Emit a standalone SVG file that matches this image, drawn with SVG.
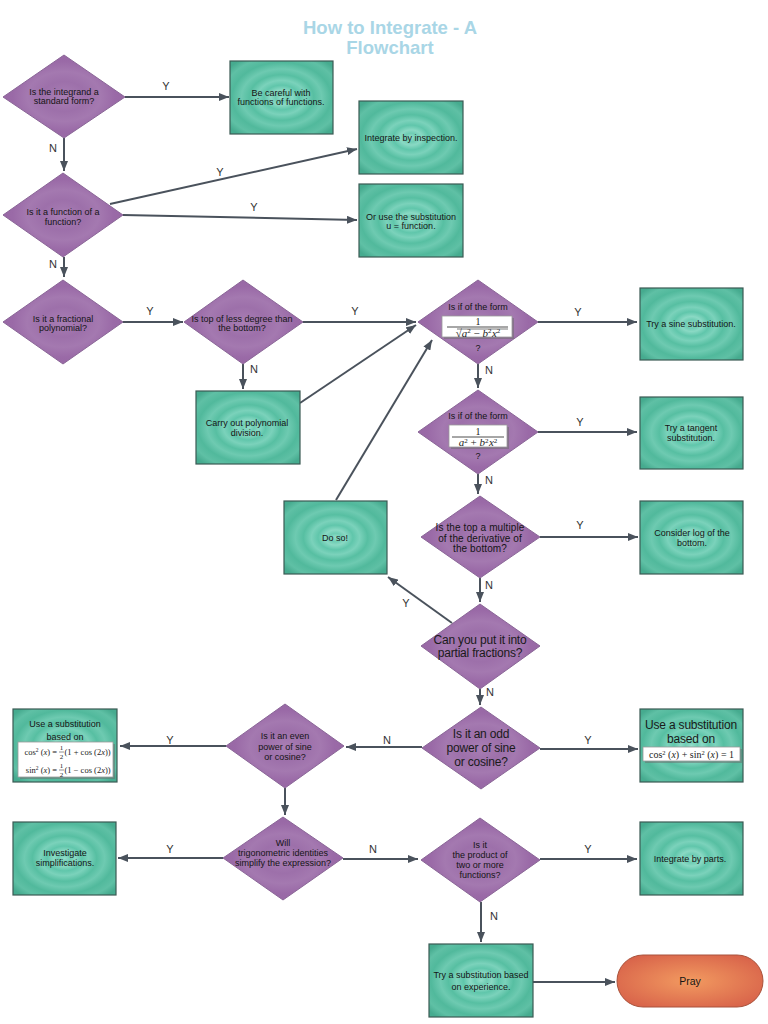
<svg xmlns="http://www.w3.org/2000/svg" width="768" height="1024" viewBox="0 0 768 1024">
<defs>
<radialGradient id="gTeal" cx="0.5" cy="0.5" r="0.65">
<stop offset="0" stop-color="#93ddc9"/>
<stop offset="0.09" stop-color="#6fcdb4"/>
<stop offset="0.16" stop-color="#8ad9c4"/>
<stop offset="0.26" stop-color="#60c6ab"/>
<stop offset="0.36" stop-color="#7bd2bb"/>
<stop offset="0.48" stop-color="#57bfa2"/>
<stop offset="0.60" stop-color="#6ecab1"/>
<stop offset="0.74" stop-color="#51b99c"/>
<stop offset="0.88" stop-color="#5fc0a5"/>
<stop offset="1" stop-color="#46ab8f"/>
</radialGradient>
<radialGradient id="gPurple" cx="0.5" cy="0.5" r="0.6">
<stop offset="0" stop-color="#a87eb4"/>
<stop offset="0.3" stop-color="#9d70aa"/>
<stop offset="0.5" stop-color="#a479b0"/>
<stop offset="0.7" stop-color="#9a6aa7"/>
<stop offset="1" stop-color="#9565a2"/>
</radialGradient>
<radialGradient id="gOrange" cx="0.5" cy="0.5" r="0.6">
<stop offset="0" stop-color="#f29a60"/>
<stop offset="1" stop-color="#d8634a"/>
</radialGradient>
<marker id="arr" viewBox="0 0 10 8" refX="10" refY="4" markerWidth="5" markerHeight="4" orient="auto" markerUnits="strokeWidth">
<path d="M0,0 L10,4 L0,8 z" fill="#4a525c"/>
</marker>
<style>
.dia{fill:url(#gPurple);stroke:#8a6697;stroke-width:1}
.box{fill:url(#gTeal);stroke:#3b5a54;stroke-width:1.2}
.t{font-family:"Liberation Sans",Arial,sans-serif;font-size:9px;fill:#151515;text-anchor:middle;letter-spacing:0}
.tm{font-size:10px;letter-spacing:0.1px}
.tb{font-family:"Liberation Sans",Arial,sans-serif;font-size:12px;fill:#1a1a1a;text-anchor:middle;letter-spacing:-0.2px}
.lbl{font-family:"Liberation Sans",Arial,sans-serif;font-size:11px;fill:#333;text-anchor:middle}
.c{stroke:#4a525c;stroke-width:2;fill:none;marker-end:url(#arr)}
.mb{fill:#fff;stroke:#9a9a9a;stroke-width:0.8}
.ms{fill:#6a6a6a;opacity:0.5}
.m{font-family:"Liberation Serif","Times New Roman",serif;font-size:11px;fill:#222}
.mi{font-style:italic}
.title{font-family:"Liberation Sans",Arial,sans-serif;font-size:18.5px;font-weight:bold;fill:#a9d6e6;text-anchor:middle}
</style>
</defs>
<rect width="768" height="1024" fill="#fff"/>
<g id="title">
<text class="title" x="390" y="34">How to Integrate - A</text>
<text class="title" x="390" y="54">Flowchart</text>
</g>
<g id="connectors">
<path class="c" d="M125,97 H229"/>
<path class="c" d="M64,138 V171"/>
<path class="c" d="M110,204 L357,149"/>
<path class="c" d="M123,215 L357,220"/>
<path class="c" d="M64,257 V277"/>
<path class="c" d="M123,322 H183"/>
<path class="c" d="M303,322 H416"/>
<path class="c" d="M243,364 V389"/>
<path class="c" d="M300,403 L416,325"/>
<path class="c" d="M336,500 L432,340"/>
<path class="c" d="M538,322 H637"/>
<path class="c" d="M478,364 V388"/>
<path class="c" d="M538,432 H637"/>
<path class="c" d="M478,474 V494"/>
<path class="c" d="M540,537 H638"/>
<path class="c" d="M480,578 V602"/>
<path class="c" d="M452,623 L388,577"/>
<path class="c" d="M480,689 V705"/>
<path class="c" d="M540,749 H638"/>
<path class="c" d="M422,747 H346"/>
<path class="c" d="M226,746 H120"/>
<path class="c" d="M285,788 V815"/>
<path class="c" d="M223,858 H118"/>
<path class="c" d="M343,859 H418"/>
<path class="c" d="M540,859 H637"/>
<path class="c" d="M481,902 V942"/>
<path class="c" d="M533,982 H615"/>
<text class="lbl" x="166" y="90">Y</text>
<text class="lbl" x="53" y="152">N</text>
<text class="lbl" x="220" y="176">Y</text>
<text class="lbl" x="254" y="211">Y</text>
<text class="lbl" x="53" y="268">N</text>
<text class="lbl" x="150" y="315">Y</text>
<text class="lbl" x="355" y="315">Y</text>
<text class="lbl" x="254" y="373">N</text>
<text class="lbl" x="578" y="316">Y</text>
<text class="lbl" x="489" y="374">N</text>
<text class="lbl" x="580" y="426">Y</text>
<text class="lbl" x="489" y="484">N</text>
<text class="lbl" x="580" y="529">Y</text>
<text class="lbl" x="489" y="589">N</text>
<text class="lbl" x="406" y="607">Y</text>
<text class="lbl" x="490" y="696">N</text>
<text class="lbl" x="588" y="744">Y</text>
<text class="lbl" x="387" y="744">N</text>
<text class="lbl" x="170" y="744">Y</text>
<text class="lbl" x="170" y="853">Y</text>
<text class="lbl" x="373" y="853">N</text>
<text class="lbl" x="588" y="853">Y</text>
<text class="lbl" x="494" y="920">N</text>
</g>
<g id="d1">
<polygon class="dia" points="64,55 125,97 64,138 3,97"/>
<text class="t" x="64" y="94.5">Is the integrand a</text>
<text class="t" x="64" y="104">standard form?</text>
</g>
<g id="b1">
<rect class="box" x="230" y="61" width="103" height="73"/>
<text class="t" x="281" y="95.5">Be careful with</text>
<text class="t" x="281" y="105">functions of functions.</text>
</g>
<g id="b2">
<rect class="box" x="359" y="101" width="104" height="73"/>
<text class="t" x="411" y="140.5">Integrate by inspection.</text>
</g>
<g id="d2">
<polygon class="dia" points="63,173 123,215 63,257 3,215"/>
<text class="t" x="63" y="214.5">Is it a function of a</text>
<text class="t" x="63" y="224.5">function?</text>
</g>
<g id="b3">
<rect class="box" x="359" y="184" width="104" height="73"/>
<text class="t" x="411" y="219.5">Or use the substitution</text>
<text class="t" x="411" y="229">u = function.</text>
</g>
<g id="d3">
<polygon class="dia" points="63,280 123,322 63,364 3,322"/>
<text class="t" x="63" y="321.5">Is it a fractional</text>
<text class="t" x="63" y="331">polynomial?</text>
</g>
<g id="d4">
<polygon class="dia" points="243,280 303,322 243,364 184,322"/>
<text class="t" x="242" y="321.5">Is top of less degree than</text>
<text class="t" x="242" y="331">the bottom?</text>
</g>
<g id="b4">
<rect class="box" x="196" y="391" width="104" height="73"/>
<text class="t" x="247" y="425.5">Carry out polynomial</text>
<text class="t" x="247" y="435.5">division.</text>
</g>
<g id="d5">
<polygon class="dia" points="478,280 538,322 478,364 418,322"/>
<text class="t" x="478" y="310">Is if of the form</text>
<rect class="ms" x="444" y="318" width="70" height="21"/>
<rect class="mb" x="442" y="316" width="70" height="21"/>
<text class="m" x="478" y="325" text-anchor="middle" style="font-size:10px">1</text>
<line x1="447" y1="327" x2="508" y2="327" stroke="#222" stroke-width="0.8"/>
<line x1="457" y1="329" x2="508" y2="329" stroke="#222" stroke-width="0.6"/>
<text class="m" x="478" y="336.5" text-anchor="middle">√<tspan class="mi">a</tspan><tspan dy="-3.5" font-size="7">2</tspan><tspan dy="3.5"> − </tspan><tspan class="mi">b</tspan><tspan dy="-3.5" font-size="7">2</tspan><tspan dy="3.5" class="mi" dx="0.5">x</tspan><tspan dy="-3.5" font-size="7">2</tspan></text>
<text class="t" x="478" y="350.5">?</text>
</g>
<g id="b5">
<rect class="box" x="640" y="288" width="103" height="72"/>
<text class="t" x="691" y="327">Try a sine substitution.</text>
</g>
<g id="d6">
<polygon class="dia" points="478,390 538,432 478,474 418,432"/>
<text class="t" x="478" y="418.5">Is if of the form</text>
<rect class="ms" x="451" y="427" width="58" height="22"/>
<rect class="mb" x="449" y="425" width="58" height="22"/>
<text class="m" x="478" y="434.5" text-anchor="middle" style="font-size:10px">1</text>
<line x1="452" y1="437" x2="504" y2="437" stroke="#222" stroke-width="0.8"/>
<text class="m" x="478" y="446" text-anchor="middle"><tspan class="mi">a</tspan><tspan dy="-3.5" font-size="7">2</tspan><tspan dy="3.5"> + </tspan><tspan class="mi">b</tspan><tspan dy="-3.5" font-size="7">2</tspan><tspan dy="3.5" class="mi" dx="0.5">x</tspan><tspan dy="-3.5" font-size="7">2</tspan></text>
<text class="t" x="478" y="459">?</text>
</g>
<g id="b6">
<rect class="box" x="640" y="397" width="103" height="72"/>
<text class="t" x="691" y="430.5">Try a tangent</text>
<text class="t" x="691" y="441">substitution.</text>
</g>
<g id="d7">
<polygon class="dia" points="480,496 540,537 480,578 421,537"/>
<text class="t tm" x="480" y="530.5">Is the top a multiple</text>
<text class="t tm" x="480" y="541.5">of the derivative of</text>
<text class="t tm" x="480" y="552">the bottom?</text>
</g>
<g id="b7">
<rect class="box" x="640" y="501" width="103" height="73"/>
<text class="t" x="692" y="535.5">Consider log of the</text>
<text class="t" x="692" y="545.5">bottom.</text>
</g>
<g id="b8">
<rect class="box" x="284" y="501" width="103" height="73"/>
<text class="t" x="335" y="540.5">Do so!</text>
</g>
<g id="d8">
<polygon class="dia" points="480,604 540,646 480,689 421,646"/>
<text class="tb" x="480" y="644">Can you put it into</text>
<text class="tb" x="480" y="657">partial fractions?</text>
</g>
<g id="d9">
<polygon class="dia" points="481,707 540,748 481,789 422,748"/>
<text class="tb" x="481" y="738">Is it an odd</text>
<text class="tb" x="481" y="752">power of sine</text>
<text class="tb" x="481" y="766">or cosine?</text>
</g>
<g id="b9">
<rect class="box" x="640" y="709" width="103" height="73"/>
<text class="tb" x="691" y="729">Use a substitution</text>
<text class="tb" x="691" y="743">based on</text>
<rect class="ms" x="645" y="749" width="97" height="14"/>
<rect class="mb" x="643" y="747" width="97" height="14"/>
<text class="m" x="691.5" y="758" text-anchor="middle" style="font-size:10px">cos<tspan dy="-3.5" font-size="6.5">2</tspan><tspan dy="3.5"> (</tspan><tspan class="mi">x</tspan>) + sin<tspan dy="-3.5" font-size="6.5">2</tspan><tspan dy="3.5"> (</tspan><tspan class="mi">x</tspan>) = 1</text>
</g>
<g id="d10">
<polygon class="dia" points="285,704 344,746 285,788 226,746"/>
<text class="t" x="285" y="739">Is it an even</text>
<text class="t" x="285" y="749.5">power of sine</text>
<text class="t" x="285" y="759.5">or cosine?</text>
</g>
<g id="b10">
<rect class="box" x="13" y="709" width="104" height="73"/>
<text class="t" x="65" y="727">Use a substitution</text>
<text class="t" x="65" y="740">based on</text>
<rect class="ms" x="20" y="744" width="95" height="35"/>
<rect class="mb" x="18" y="742" width="95" height="35"/>
<text class="m" x="57" y="755" text-anchor="end" style="font-size:8.5px">cos<tspan dy="-3" font-size="5.5">2</tspan><tspan dy="3"> (</tspan><tspan class="mi">x</tspan>) =</text>
<text class="m" x="61.5" y="750" text-anchor="middle" style="font-size:7px">1</text>
<line x1="59" y1="752" x2="64" y2="752" stroke="#222" stroke-width="0.5"/>
<text class="m" x="61.5" y="758.5" text-anchor="middle" style="font-size:7px">2</text>
<text class="m" x="64.5" y="755" style="font-size:8.5px">(1 + cos (2<tspan class="mi">x</tspan>))</text>
<text class="m" x="57" y="773" text-anchor="end" style="font-size:8.5px">sin<tspan dy="-3" font-size="5.5">2</tspan><tspan dy="3"> (</tspan><tspan class="mi">x</tspan>) =</text>
<text class="m" x="61.5" y="768" text-anchor="middle" style="font-size:7px">1</text>
<line x1="59" y1="770" x2="64" y2="770" stroke="#222" stroke-width="0.5"/>
<text class="m" x="61.5" y="776.5" text-anchor="middle" style="font-size:7px">2</text>
<text class="m" x="64.5" y="773" style="font-size:8.5px">(1 − cos (2<tspan class="mi">x</tspan>))</text>
</g>
<g id="d11">
<polygon class="dia" points="283,817 343,858 283,900 223,858"/>
<text class="t" x="283" y="846">Will</text>
<text class="t" x="283" y="856">trigonometric identities</text>
<text class="t" x="283" y="865.5">simplify the expression?</text>
</g>
<g id="b11">
<rect class="box" x="13" y="822" width="103" height="73"/>
<text class="t" x="65" y="856">Investigate</text>
<text class="t" x="65" y="865.5">simplifications.</text>
</g>
<g id="d12">
<polygon class="dia" points="480,818 540,860 480,902 421,860"/>
<text class="t" x="480" y="848">Is it</text>
<text class="t" x="480" y="858">the product of</text>
<text class="t" x="480" y="868">two or more</text>
<text class="t" x="480" y="877.5">functions?</text>
</g>
<g id="b12">
<rect class="box" x="640" y="822" width="103" height="73"/>
<text class="t" x="690" y="861.5">Integrate by parts.</text>
</g>
<g id="b13">
<rect class="box" x="429" y="944" width="104" height="73"/>
<text class="t" x="481" y="977.5">Try a substitution based</text>
<text class="t" x="481" y="989.5">on experience.</text>
</g>
<g id="pray">
<rect x="617" y="955" width="146" height="52" rx="26" ry="26" fill="url(#gOrange)" stroke="#a9533c" stroke-width="1"/>
<text class="t" x="690" y="985" style="font-size:10.5px">Pray</text>
</g>
</svg>
